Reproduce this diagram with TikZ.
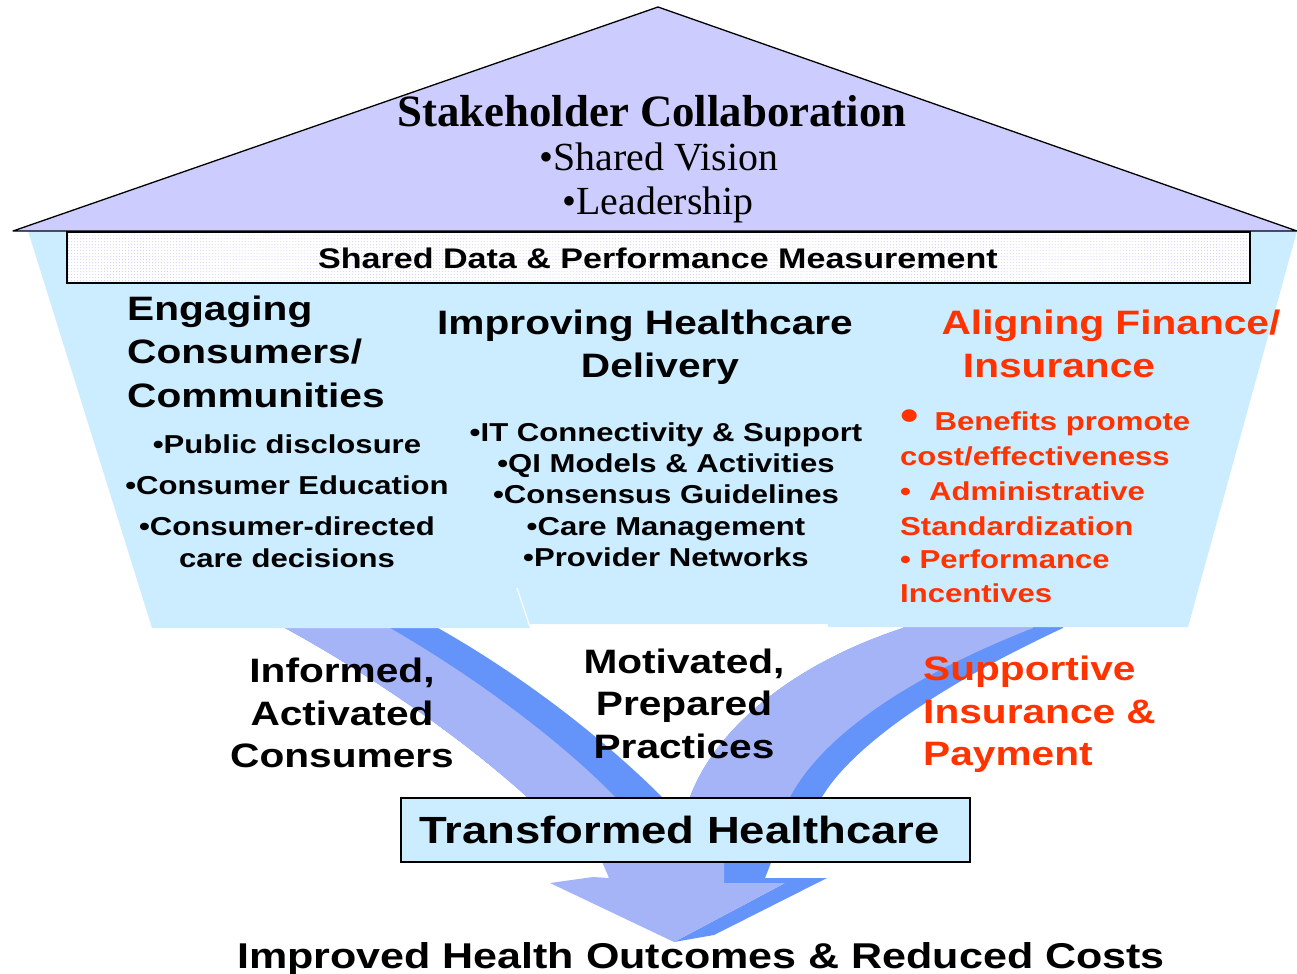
\documentclass[tikz,border=0pt]{standalone}
\usepackage{fontspec}
\setmainfont{Liberation Serif}
\newfontfamily\widesans[FakeStretch=1.2]{Liberation Sans}
\usetikzlibrary{patterns}
\definecolor{roofblue}{RGB}{204,204,255}
\definecolor{wallblue}{RGB}{204,236,255}
\definecolor{bandlight}{RGB}{164,180,247}
\definecolor{banddark}{RGB}{100,148,250}
\definecolor{finred}{RGB}{255,51,0}
\definecolor{dotblue}{RGB}{200,205,245}

\begin{document}
\begin{tikzpicture}[x=1bp,y=-1bp,
  every node/.style={inner sep=0pt},
  rooftitle/.style={font=\bfseries\fontsize{45}{45}\selectfont,anchor=base},
  roofitem/.style={font=\fontsize{40}{40}\selectfont,anchor=base},
  head/.style={font=\widesans\bfseries\fontsize{34}{34}\selectfont,anchor=base},
  item/.style={font=\widesans\bfseries\fontsize{26}{26}\selectfont,anchor=base},
  redtext/.style={text=finred}]
        \useasboundingbox (0,0) rectangle (1297,974);
        %Left arrow band
        \fill[banddark] (285,620) -- (438,620) -- (438,628) .. controls (530,680) and (610,745) .. (662,797) -- (700,850) -- (590,850) -- (527,797) .. controls (470,745) and (380,680) .. (285,628) -- cycle;
        \fill[bandlight] (285,620) -- (390,620) -- (390,628) .. controls (480,680) and (565,745) .. (615,797) -- (660,850) -- (590,850) -- (527,797) .. controls (470,745) and (380,680) .. (285,628) -- cycle;
        %Right arrow band
        \fill[banddark] (903,620) -- (1063,620) -- (1063,628) .. controls (930,690) and (850,750) .. (822,797) -- (776,850) -- (680,850) -- (690,797) .. controls (715,730) and (790,665) .. (903,628) -- cycle;
        \fill[bandlight] (903,620) -- (1033,620) -- (1033,628) .. controls (900,680) and (820,740) .. (790,797) -- (724,850) -- (680,850) -- (690,797) .. controls (715,730) and (790,665) .. (903,628) -- cycle;
        %Arrow head
        \fill[banddark] (724,850) -- (776,850) -- (765,878) -- (827,878) -- (714,935) -- (674,942) -- (785,883) -- (724,883) -- cycle;
        \fill[bandlight] (597,850) -- (724,850) -- (724,883) -- (785,883) -- (674,942) -- (550,883) -- (593,877) -- (609,878) -- cycle;
        %House body
        \fill[wallblue] (28,231) -- (1297,231) -- (1188,627) -- (828,627) -- (828,624) -- (530,624) -- (530,628) -- (152,628) -- cycle;
        \draw[white,line width=1.2bp] (517,588) -- (530,627);
        %Roof
        \filldraw[fill=roofblue,line width=1.3bp,line join=round] (13,231) -- (658,7) -- (1297,231) -- cycle;
        %Shared data band
        \fill[white] (67,232) rectangle (1250,283);
        \fill[pattern=dots,pattern color=dotblue] (67,232) rectangle (1250,283);
        \draw[line width=1.2bp] (67,232) rectangle (1250,283);
        % Add Text
        % Roof
        \node[rooftitle] (stake) at (652,126) {Stakeholder Collaboration};
        \node[roofitem] (vision) at (659,170) {•Shared Vision};
        \node[roofitem] (lead) at (658,214) {•Leadership};
        \node[item,font=\widesans\bfseries\fontsize{28.5}{28.5}\selectfont] (shdata) at (658,268) {Shared Data \& Performance Measurement};
        % Consumers column
        \node[head,anchor=base west] (engage1) at (127,320) {Engaging};
        \node[head,anchor=base west] (engage2) at (127,363) {Consumers/};
        \node[head,anchor=base west] (engage3) at (127,407) {Communities};
        \node[item] (pubdis) at (287,453) {•Public disclosure};
        \node[item] (consed) at (287,494) {•Consumer Education};
        \node[item] (consdir1) at (287,535) {•Consumer-directed};
        \node[item] (consdir2) at (287,567) {care decisions};
        % Delivery column
        \node[head] (improve1) at (645,334) {Improving Healthcare};
        \node[head] (improve2) at (660,377) {Delivery};
        \node[item] (itcon) at (666,441) {•IT Connectivity \& Support};
        \node[item] (qimod) at (666,472) {•QI Models \& Activities};
        \node[item] (consgu) at (666,503) {•Consensus Guidelines};
        \node[item] (caremg) at (666,535) {•Care Management};
        \node[item] (provnet) at (666,566) {•Provider Networks};
        % Finance column
        \node[head,redtext] (align1) at (1111,334) {Aligning Finance/};
        \node[head,redtext] (align2) at (1059,377) {Insurance};
        \node[item,redtext,anchor=base west] (benef1) at (900,430) {{\fontsize{44}{44}\selectfont•}\hspace{16bp}Benefits promote};
        \node[item,redtext,anchor=base west] (benef2) at (900,465) {cost/effectiveness};
        \node[item,redtext,anchor=base west] (admin1) at (900,500) {•\hspace{18bp}Administrative};
        \node[item,redtext,anchor=base west] (admin2) at (900,535) {Standardization};
        \node[item,redtext,anchor=base west] (perf1) at (900,568) {• Performance};
        \node[item,redtext,anchor=base west] (perf2) at (900,602) {Incentives};
        % Results along the arrows
        \node[head] (inform1) at (342,682) {Informed,};
        \node[head] (inform2) at (342,725) {Activated};
        \node[head] (inform3) at (342,767) {Consumers};
        \node[head] (motiv1) at (684,673) {Motivated,};
        \node[head] (motiv2) at (684,715) {Prepared};
        \node[head] (motiv3) at (684,758) {Practices};
        \node[head,redtext,anchor=base west] (suppo1) at (923,680) {Supportive};
        \node[head,redtext,anchor=base west] (suppo2) at (923,723) {Insurance \&};
        \node[head,redtext,anchor=base west] (suppo3) at (923,765) {Payment};
        % Transformed healthcare box
        \node[draw,line width=1.2bp,fill=wallblue,minimum width=569bp,minimum height=64bp,
              font=\widesans\bfseries\fontsize{38}{38}\selectfont] (transf) at (685.5,830) {Transformed Healthcare\kern12bp\null};
        \node[head,font=\widesans\bfseries\fontsize{36}{36}\selectfont] (outcome) at (701,968) {Improved Health Outcomes \& Reduced Costs};
      \end{tikzpicture}
\end{document}
